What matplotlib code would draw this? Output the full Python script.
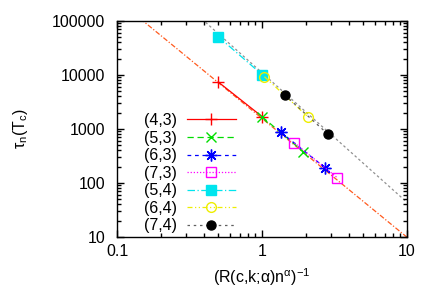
import numpy as np
import matplotlib
matplotlib.use("Agg")
import matplotlib.pyplot as plt
from matplotlib.ticker import FixedLocator, FixedFormatter, LogLocator, NullFormatter

plt.rcParams['font.family'] = ['Liberation Sans', 'DejaVu Sans']
plt.rcParams['mathtext.fontset'] = 'custom'
plt.rcParams['mathtext.rm'] = 'Liberation Sans'
plt.rcParams['mathtext.it'] = 'Liberation Sans'

# data: (c,k) series -> x = (R n^alpha)^-1, y = tau_n(Tc)
labels = ['(4,3)', '(5,3)', '(6,3)', '(7,3)', '(5,4)', '(6,4)', '(7,4)']
x_43 = [0.5, 1.0];   y_43 = [7400, 1700]
x_53 = [1.0, 1.93];  y_53 = [1690, 380]
x_63 = [1.35, 2.72]; y_63 = [870, 192]
x_73 = [1.67, 3.31]; y_73 = [557, 125]
x_54 = [0.5, 1.0];   y_54 = [51000, 10200]
x_64 = [1.04, 2.07]; y_64 = [9300, 1690]
x_74 = [1.43, 2.84]; y_74 = [4300, 807]

# power-law fits: y = A * x^(-b)
fit_k3 = (1570, 2.2)
fit_k4 = (11000, 2.4)

xticks = [0.1, 1, 10]
xticklabels = ['0.1', '1', '10']
yticks = [10, 100, 1000, 10000, 100000]
yticklabels = ['10', '100', '1000', '10000', '100000']

fs = 11.5
fig = plt.figure(figsize=(4.36, 3.05), dpi=100)
ax = fig.add_axes([117/436, 1-237/305, (407-117)/436, (237-21)/305])
ax.set_xscale('log'); ax.set_yscale('log')
ax.set_xlim(0.1, 10); ax.set_ylim(10, 100000)

xf = np.logspace(-1, 1, 200)
ax.plot(xf, fit_k3[0]*xf**(-fit_k3[1]), color='#ff5a1e', lw=0.9, ls=(0, (4, 1.5, 1, 1.5)), zorder=1)
ax.plot(xf, fit_k4[0]*xf**(-fit_k4[1]), color='#909090', lw=0.9, ls=(0, (2, 2)), zorder=1)

series = [
    (x_43, y_43, dict(color='#ff0000', ls='-', marker='+', ms=9, mew=1.0)),
    (x_53, y_53, dict(color='#00dd00', ls=(0, (5, 3)), marker='x', ms=7, mew=1.0)),
    (x_63, y_63, dict(color='#0000ff', ls=(0, (3, 3)), marker=(8, 2, 0), ms=8.5, mew=1.0)),
    (x_73, y_73, dict(color='#ff00ff', ls=(0, (1, 1.5)), marker='s', ms=7.5, mfc='none', mew=1.0)),
    (x_54, y_54, dict(color='#00e5ee', ls=(0, (6, 2, 1, 2)), marker='s', ms=6.5, mew=1.0)),
    (x_64, y_64, dict(color='#eeee00', ls=(0, (4, 2, 1, 2, 1, 2)), marker='o', ms=7, mfc='none', mew=1.0)),
    (x_74, y_74, dict(color='#000000', ls=(0, (2, 3)), marker='o', ms=6.5, mew=1.0)),
]
handles = []
for (xs, ys, st), lab in zip(series, labels):
    kw = dict(st)
    c = kw.pop('color')
    line, = ax.plot(xs, ys, color=c, lw=0.9, label=lab, mec=c,
                    mfc=kw.pop('mfc', c), zorder=3, **kw)
    handles.append(line)
handles[-1].set_color('#606060')
handles[-1].set_markeredgecolor('k'); handles[-1].set_markerfacecolor('k')

ax.xaxis.set_major_locator(FixedLocator(xticks))
ax.xaxis.set_major_formatter(FixedFormatter(xticklabels))
ax.yaxis.set_major_locator(FixedLocator(yticks))
ax.yaxis.set_major_formatter(FixedFormatter(yticklabels))
ax.xaxis.set_minor_locator(LogLocator(base=10, subs=np.arange(2, 10)))
ax.yaxis.set_minor_locator(LogLocator(base=10, subs=np.arange(2, 10)))
ax.xaxis.set_minor_formatter(NullFormatter())
ax.yaxis.set_minor_formatter(NullFormatter())
ax.tick_params(which='both', direction='in', top=True, right=True, labelsize=fs, width=1.0)
ax.tick_params(which='major', length=5)
ax.tick_params(which='minor', length=2.8)
ax.tick_params(axis='y', which='major', pad=8.5)
ax.tick_params(axis='x', which='major', pad=5)
for s in ax.spines.values():
    s.set_linewidth(1.0)

ax.set_xlabel('(R(c,k;α)n$^{\\mathregular{α}}$)$^{\\mathregular{-1}}$', fontsize=fs, labelpad=5)
ax.set_ylabel('τ$_{\\mathregular{n}}$(T$_{\\mathregular{c}}$)', fontsize=fs, labelpad=16)

leg = ax.legend(handles=handles, loc='upper left', bbox_to_anchor=(144/436, 1-113/305),
                bbox_transform=fig.transFigure, frameon=False, markerfirst=False,
                fontsize=fs, handlelength=3.1, handletextpad=0.6, labelspacing=0.16,
                borderpad=0, borderaxespad=0, numpoints=1)

fig.savefig('out.png', dpi=100)
